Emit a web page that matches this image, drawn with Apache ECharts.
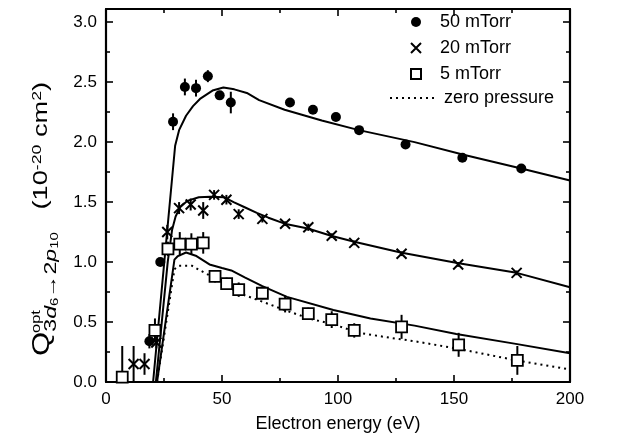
<!DOCTYPE html>
<html>
<head>
<meta charset="utf-8">
<script src="https://cdn.jsdelivr.net/npm/echarts@6/dist/echarts.min.js"></script>
<style>
html,body{margin:0;padding:0;background:#fff}
#chart{width:642px;height:438px}
</style>
</head>
<body>
<div id="chart"></div>
<script>
// measured cross sections (energy in eV, Q in 1e-20 cm^2, +/- error)
var e50 = [18.7, 23.4, 28.9, 34.0, 38.8, 43.9, 49.0, 53.8, 79.3, 89.2, 99.1, 109.1, 129.1, 153.6, 179.0];
var q50 = [0.34, 1.00, 2.17, 2.46, 2.45, 2.55, 2.39, 2.33, 2.33, 2.27, 2.21, 2.10, 1.98, 1.87, 1.78];
var d50 = [0.06, 0.03, 0.07, 0.07, 0.07, 0.05, 0.03, 0.09, 0.02, 0.02, 0.03, 0.02, 0.02, 0.02, 0.02];

var e20 = [11.9, 16.6, 21.7, 26.4, 31.5, 36.5, 41.9, 46.6, 51.9, 57.2, 67.4, 77.2, 87.2, 97.3, 107.0, 127.4, 151.8, 177.0];
var q20 = [0.15, 0.15, 0.33, 1.25, 1.45, 1.48, 1.43, 1.56, 1.52, 1.40, 1.36, 1.32, 1.29, 1.22, 1.16, 1.07, 0.98, 0.91];
var d20 = [0.15, 0.09, 0.05, 0.06, 0.05, 0.05, 0.07, 0.04, 0.04, 0.04, 0.03, 0.02, 0.03, 0.02, 0.02, 0.02, 0.02, 0.02];

var e5 = [7.0, 21.1, 26.7, 31.8, 36.8, 41.9, 47.0, 52.0, 57.2, 67.4, 77.2, 87.2, 97.3, 107.0, 127.4, 152.0, 177.3];
var q5 = [0.04, 0.43, 1.11, 1.15, 1.15, 1.16, 0.88, 0.82, 0.77, 0.74, 0.65, 0.57, 0.52, 0.43, 0.46, 0.31, 0.18];
var d5 = [0.26, 0.10, 0.06, 0.10, 0.09, 0.09, 0.05, 0.05, 0.06, 0.05, 0.07, 0.05, 0.07, 0.06, 0.10, 0.10, 0.12];

// model curves
var fitE50 = [20.3, 29.8, 31.5, 34.5, 37.5, 40.5, 45.9, 50.6, 55.3, 60.7, 66, 77, 93, 109, 133, 155, 179, 200];
var fitQ50 = [0, 1.97, 2.10, 2.22, 2.30, 2.36, 2.43, 2.455, 2.44, 2.41, 2.35, 2.27, 2.18, 2.10, 2.0, 1.89, 1.78, 1.68];

var fitE20 = [21.5, 26.6, 28.5, 30, 32, 35, 40, 45, 51, 55, 60, 65, 70, 77, 87, 97, 107, 127, 152, 177, 200];
var fitQ20 = [0, 1.0, 1.27, 1.38, 1.46, 1.51, 1.54, 1.545, 1.54, 1.50, 1.455, 1.41, 1.37, 1.32, 1.28, 1.22, 1.17, 1.08, 0.99, 0.91, 0.79];

var fitE5 = [22, 29.5, 31, 34.5, 39, 44.6, 50, 54, 60, 67.4, 78, 98, 114, 133, 151, 176, 200];
var fitQ5 = [0, 1.02, 1.05, 1.08, 1.05, 0.98, 0.95, 0.93, 0.87, 0.80, 0.71, 0.60, 0.53, 0.47, 0.40, 0.32, 0.24];

var fitE0 = [22, 29.5, 31.5, 37, 40.6, 46, 52, 57.4, 67.4, 77, 87.5, 98, 109, 122, 133, 151, 177, 200];
var fitQ0 = [0, 0.94, 0.97, 0.97, 0.93, 0.875, 0.80, 0.74, 0.67, 0.60, 0.53, 0.48, 0.41, 0.37, 0.34, 0.28, 0.18, 0.105];

var FONT = "'Liberation Sans', Arial, Helvetica, sans-serif";

function pairs(xs, ys) {
    var out = [];
    for (var i = 0; i < xs.length; i++) out.push([xs[i], ys[i]]);
    return out;
}
function errData(xs, ys, ds) {
    var out = [];
    for (var i = 0; i < xs.length; i++) out.push([xs[i], Math.max(0, ys[i] - ds[i]), ys[i] + ds[i]]);
    return out;
}
function errRender(params, api) {
    var a = api.coord([api.value(0), api.value(1)]);
    var b = api.coord([api.value(0), api.value(2)]);
    return {
        type: 'line',
        shape: {x1: a[0], y1: a[1], x2: b[0], y2: b[1]},
        style: {stroke: '#000', lineWidth: 2}
    };
}
function errSeries(xs, ys, ds) {
    return {
        type: 'custom', renderItem: errRender, data: errData(xs, ys, ds),
        encode: {x: 0, y: [1, 2]}, z: 3, silent: true
    };
}
function fitSeries(name, xs, ys, dotted) {
    return {
        name: name, type: 'line', data: pairs(xs, ys), showSymbol: false, symbol: 'none',
        lineStyle: {color: '#000', width: 2, type: dotted ? [2, 4] : 'solid'},
        itemStyle: {color: '#000'}, z: 2, silent: true
    };
}
// frame axis: ticks inside on every side
function frameAxis(opts, labels) {
    var a = {
        type: 'value',
        axisLine: {show: true, onZero: false, lineStyle: {color: '#000', width: 2.2}},
        axisTick: {show: true, inside: true, length: 7, lineStyle: {color: '#000', width: 1.6}},
        minorTick: {show: true, splitNumber: 2, length: 4, lineStyle: {color: '#000', width: 1.6}},
        splitLine: {show: false},
        axisLabel: labels ? {fontSize: 17, color: '#000', fontFamily: FONT, margin: 9} : {show: false}
    };
    for (var k in opts) a[k] = opts[k];
    return a;
}

var CROSS = 'path://M0,0L10,10M10,0L0,10';
var SQUARE = 'path://M0,0H10V10H0Z';

var yLeft = frameAxis({min: 0, max: 3.11, interval: 0.5, position: 'left'}, true);
yLeft.axisLabel.showMaxLabel = false;
yLeft.axisLabel.formatter = function (v) { return v.toFixed(1); };

var myChart = echarts.init(document.getElementById('chart'));
var option = {
    animation: false,
    backgroundColor: '#fff',
    textStyle: {fontFamily: FONT},
    grid: {left: 106, right: 72, top: 9, bottom: 56, outerBoundsMode: 'none'},
    xAxis: [
        frameAxis({min: 0, max: 200, interval: 50, position: 'bottom',
            name: 'Electron energy (eV)', nameLocation: 'middle', nameGap: 33,
            nameTextStyle: {fontSize: 18, color: '#000', fontFamily: FONT}}, true),
        frameAxis({min: 0, max: 200, interval: 50, position: 'top'}, false)
    ],
    yAxis: [
        yLeft,
        frameAxis({min: 0, max: 3.11, interval: 0.5, position: 'right'}, false)
    ],
    legend: [
        {
            data: [
                {name: '50 mTorr', icon: 'circle'},
                {name: '20 mTorr', icon: CROSS},
                {name: '5 mTorr', icon: SQUARE}
            ],
            orient: 'vertical', left: 405, top: 8, itemWidth: 10, itemHeight: 10, itemGap: 8,
            textStyle: {fontSize: 18, color: '#000', fontFamily: FONT, padding: [0, 0, 0, 14]},
            selectedMode: false
        },
        {
            data: [{name: 'zero pressure', itemStyle: {opacity: 0}}],
            orient: 'vertical', left: 384, top: 84, itemWidth: 46, itemHeight: 10,
            lineStyle: {color: '#000', width: 2, type: [2, 4]},
            textStyle: {fontSize: 18, color: '#000', fontFamily: FONT, padding: [0, 0, 0, 3]},
            selectedMode: false
        }
    ],
    graphic: [{
        type: 'group', x: 31, y: 356, rotation: Math.PI / 2, scaleX: 1.36,
        children: [
            {
                type: 'text', x: 0, y: 0,
                style: {
                    text: '{q|Q}{s|3}{si|d}{ss|6}{s|\u21922}{si|p}{ss|10}{n|   (10}{u|-20}{n| cm}{u|2}{n|)}',
                    fill: '#000', align: 'left', verticalAlign: 'top',
                    rich: {
                        q: {fontSize: 23, lineHeight: 29, verticalAlign: 'top', fontFamily: FONT},
                        s: {fontSize: 17, lineHeight: 19, verticalAlign: 'bottom', fontFamily: FONT},
                        si: {fontSize: 17, lineHeight: 19, verticalAlign: 'bottom', fontStyle: 'italic', fontFamily: FONT},
                        ss: {fontSize: 11, lineHeight: 7, verticalAlign: 'bottom', fontFamily: FONT},
                        n: {fontSize: 20, lineHeight: 29, verticalAlign: 'top', fontFamily: FONT},
                        u: {fontSize: 13, lineHeight: 13, verticalAlign: 'top', fontFamily: FONT}
                    }
                }
            },
            {
                type: 'text', x: 17, y: 0,
                style: {text: 'opt', fontSize: 12, fontFamily: FONT, fill: '#000', align: 'left', verticalAlign: 'top'}
            }
        ]
    }],
    series: [
        fitSeries('fit50', fitE50, fitQ50, false),
        fitSeries('fit20', fitE20, fitQ20, false),
        fitSeries('fit5', fitE5, fitQ5, false),
        fitSeries('zero pressure', fitE0, fitQ0, true),
        errSeries(e50, q50, d50),
        errSeries(e20, q20, d20),
        errSeries(e5, q5, d5),
        {
            name: '50 mTorr', type: 'scatter', data: pairs(e50, q50), symbol: 'circle', symbolSize: 10,
            itemStyle: {color: '#000', opacity: 1}, z: 5
        },
        {
            name: '20 mTorr', type: 'scatter', data: pairs(e20, q20), symbol: CROSS, symbolSize: 10,
            itemStyle: {color: '#000', borderColor: '#000', borderWidth: 2, opacity: 1}, z: 5
        },
        {
            name: '5 mTorr', type: 'scatter', data: pairs(e5, q5), symbol: SQUARE, symbolSize: 11,
            itemStyle: {color: '#fff', borderColor: '#000', borderWidth: 1.8, opacity: 1}, z: 5
        }
    ]
};
myChart.setOption(option);
</script>
</body>
</html>
